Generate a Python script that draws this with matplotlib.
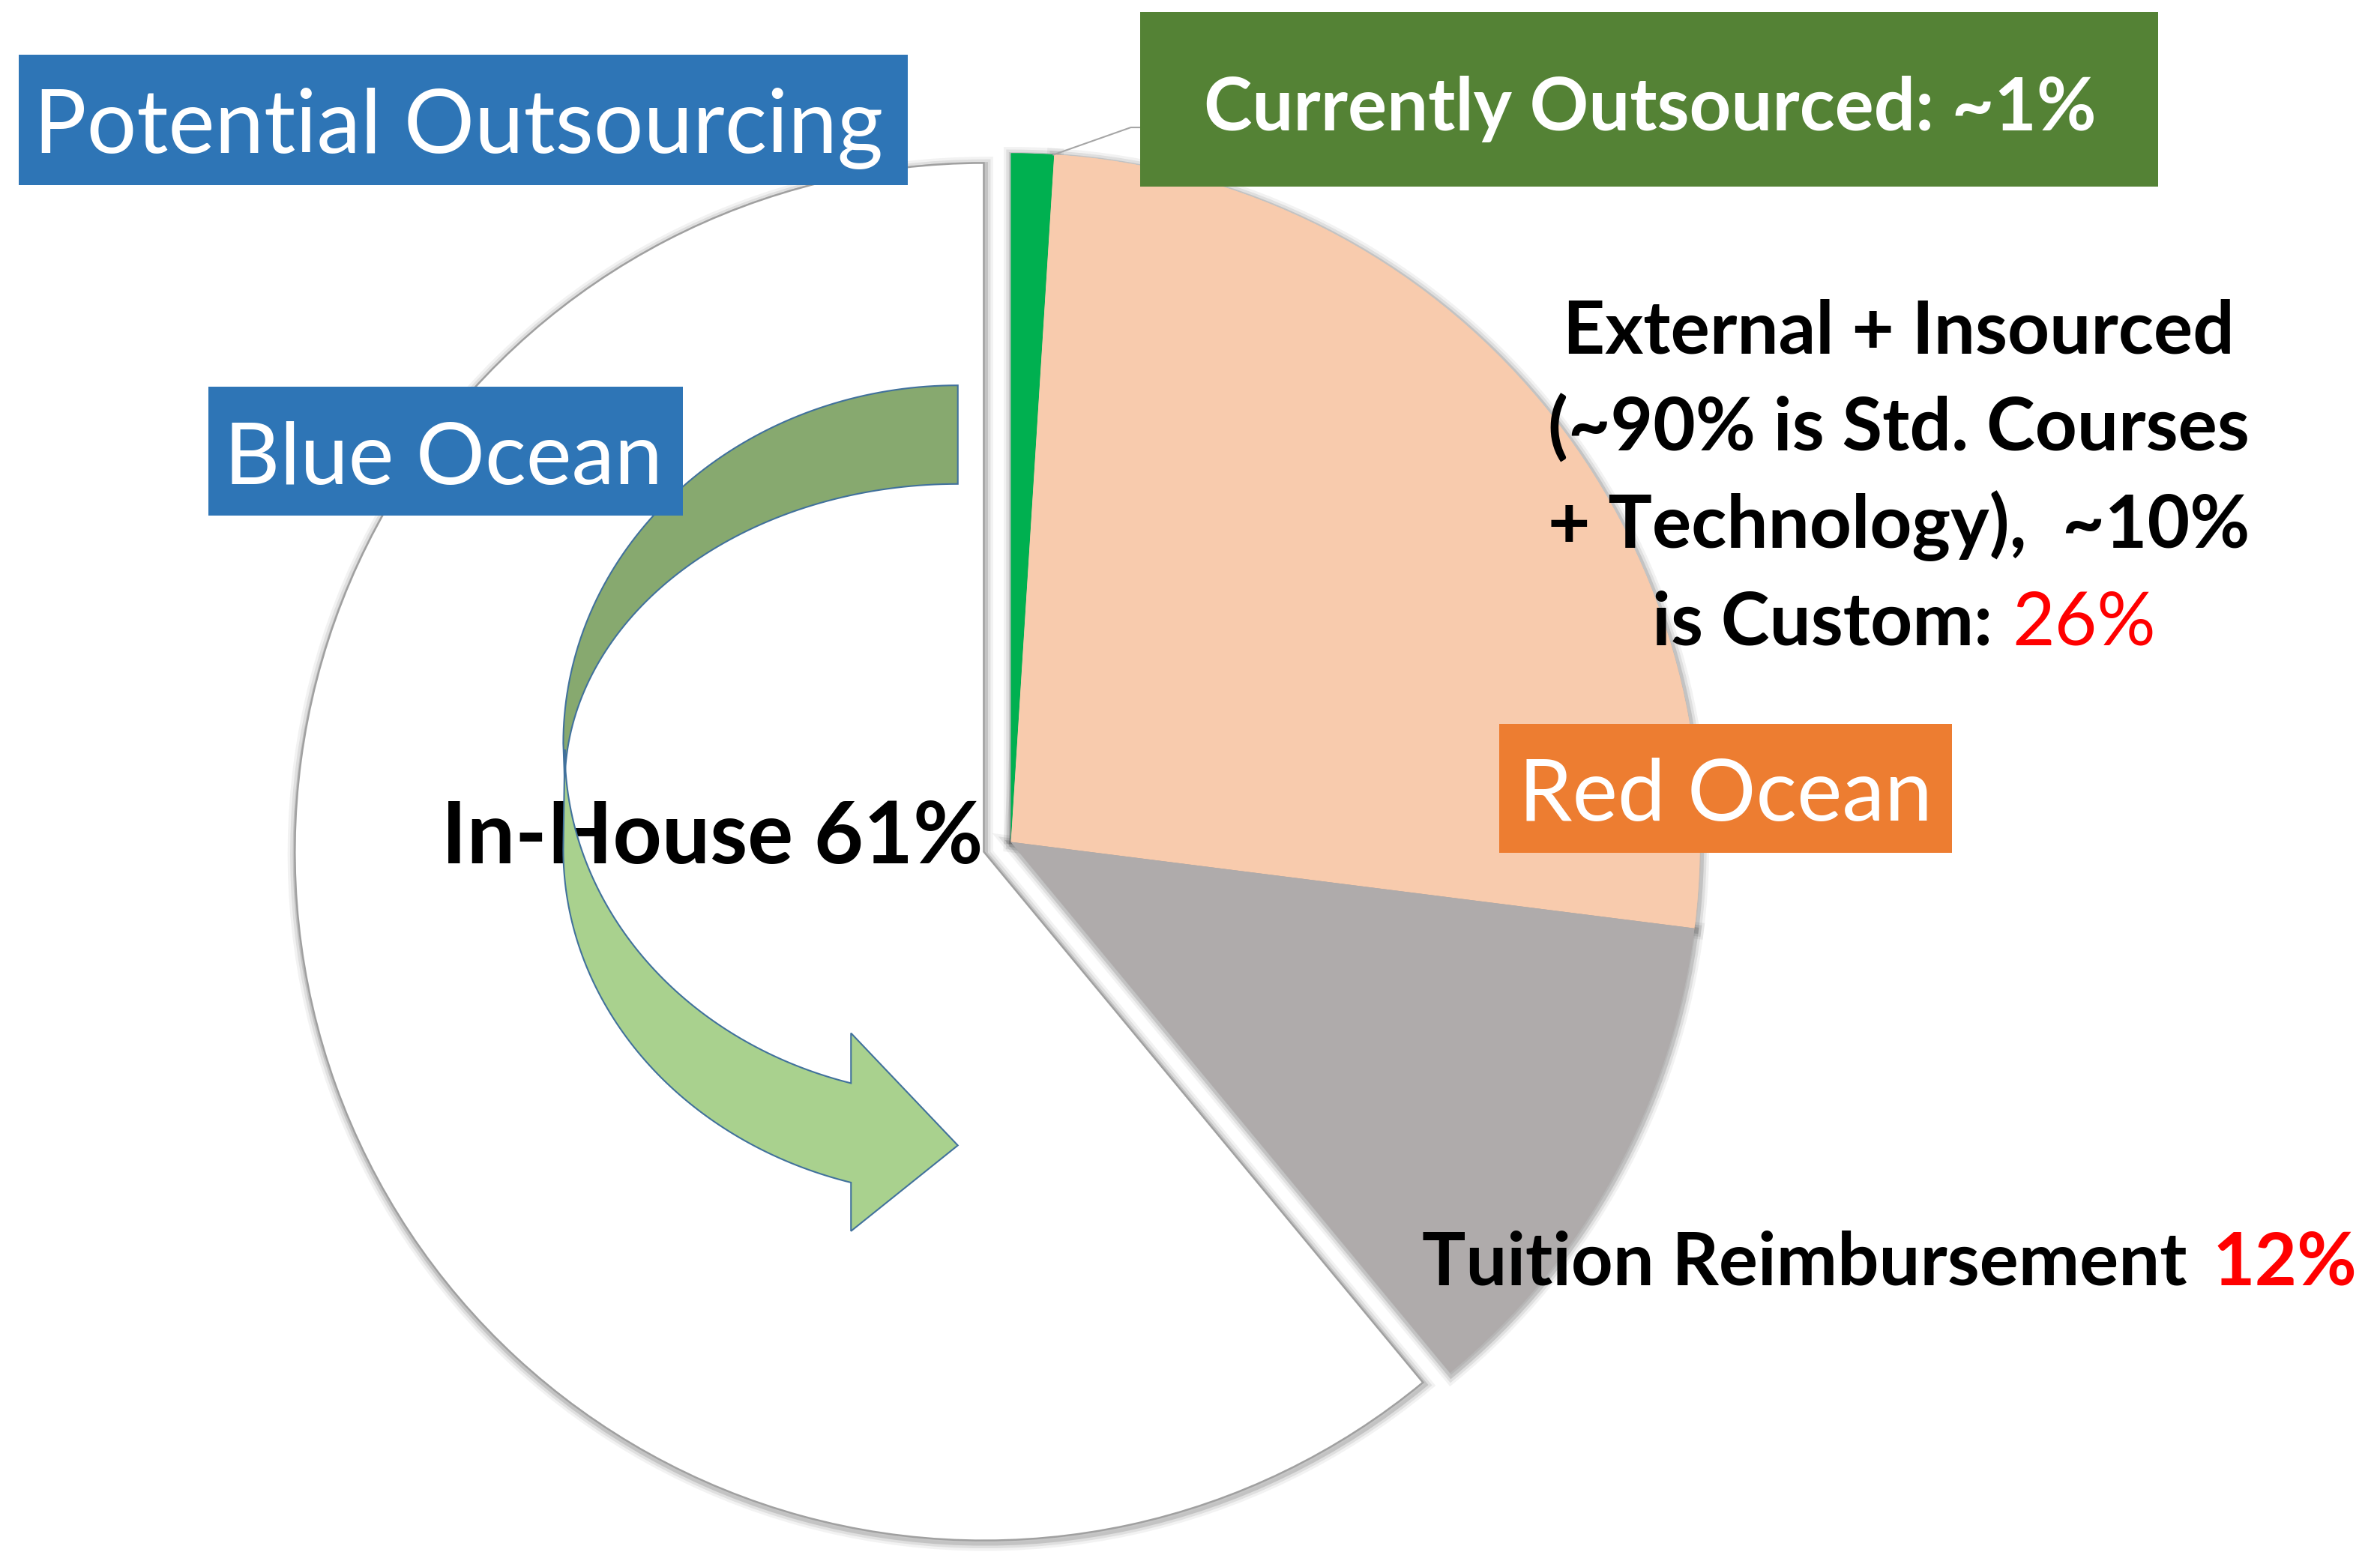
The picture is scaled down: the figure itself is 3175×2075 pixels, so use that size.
import numpy as np
import matplotlib.pyplot as plt
import matplotlib.patheffects as pe
from matplotlib.patches import Rectangle, Polygon

plt.rcParams['font.family'] = ['Lato', 'DejaVu Sans']

# slice order: clockwise from 12 o'clock
segments = ['Currently Outsourced', 'External + Insourced', 'Tuition Reimbursement', 'In-House']
shares = [1, 26, 12, 61]
slice_colors = ['#00B050', '#F8CBAD', '#AFABAB', '#FFFFFF']
explode = [0, 0, 0, 19]

# the layout below is worked in the reference's 1568x1025 preview pixels (y down)
W, H = 1568, 1025
K = 3175 / W

fig = plt.figure(figsize=(31.75, 20.75), dpi=100)
ax = fig.add_axes([0, 0, 1, 1])

center = (666, 555)
radius = 454

# soft shadow pass, then the real slices on top
halo = [pe.Stroke(offset=(1, -2), linewidth=16, foreground='k', alpha=0.05),
        pe.Stroke(offset=(1, -2), linewidth=11, foreground='k', alpha=0.08),
        pe.Stroke(offset=(1, -2), linewidth=6, foreground='k', alpha=0.12),
        pe.Normal()]
shadow, _ = ax.pie(shares, colors=slice_colors, explode=explode, startangle=-90,
                   counterclock=True, center=center, radius=radius,
                   wedgeprops=dict(linewidth=0, zorder=1))
for w in shadow:
    w.set_path_effects(halo)

wedges, _ = ax.pie(shares, colors=slice_colors, explode=explode, startangle=-90,
                   counterclock=True, center=center, radius=radius,
                   wedgeprops=dict(linewidth=0, zorder=2))
wedges[3].set_edgecolor('#A0A0A0')
wedges[3].set_linewidth(1.8)

ax.set_xlim(0, W)
ax.set_ylim(H, 0)
ax.set_aspect('equal')
ax.axis('off')

# connector from the thin green slice to its label
ax.plot([694, 745, 752], [102, 84, 84], color='#A6A6A6', lw=1.5, zorder=5)


# curved arrow (Blue Ocean -> In-House)
def arc(cx, cy, a, b, t0, t1, n=80):
    t = np.radians(np.linspace(t0, t1, n))
    return np.column_stack([cx + a * np.cos(t), cy + b * np.sin(t)])


back = np.vstack([arc(631, 490, 260, 236, -90, -180),
                  arc(631, 517, 259, 198, 180, 270)])
front = np.vstack([arc(631, 494, 259, 228.6, 180, 105.77),
                   [[560.6, 681], [631, 755], [560.6, 811.5]],
                   arc(631, 560, 260, 228, 105.71, 180)])
ax.add_patch(Polygon(back, closed=True, fc='#87A96F', ec='#41719C', lw=1.5, zorder=4))
ax.add_patch(Polygon(front, closed=True, fc='#A9D18E', ec='#41719C', lw=1.5, zorder=4))

renderer = fig.canvas.get_renderer()


def fit(t, width):
    w = t.get_window_extent(renderer).width / K
    t.set_fontsize(t.get_fontsize() * width / w)
    return t.get_fontsize()


# coloured label boxes
boxes = [
    ((12, 36, 586, 86), '#2E75B6', 'Potential Outsourcing', 302, 101, 560, 'normal'),
    ((137, 255, 313, 85), '#2E75B6', 'Blue Ocean', 292, 319, 289, 'normal'),
    ((751, 8, 671, 115), '#548235', f'Currently Outsourced: ~{shares[0]}%', 1087, 86, 588, 'bold'),
    ((988, 477, 298, 85), '#ED7D31', 'Red Ocean', 1137, 541, 273, 'normal'),
]
for (x0, y0, bw, bh), fc, txt, tx, ty, tw, weight in boxes:
    ax.add_patch(Rectangle((x0, y0), bw, bh, fc=fc, ec='none', zorder=5))
    t = ax.text(tx, ty, txt, color='white', ha='center', va='baseline',
                fontsize=60, fontweight=weight, zorder=6)
    fit(t, tw)

# In-House label sits under the arrow
t = ax.text(291, 569, f'{segments[3]} {shares[3]}%', ha='left', va='baseline',
            fontsize=60, fontweight='bold', color='black', zorder=3)
fit(t, 357)

# External + Insourced block
t = ax.text(1251, 233, segments[1], ha='center', va='baseline',
            fontsize=60, fontweight='bold', zorder=6)
fs = fit(t, 442)
ax.text(1251, 297, '(~90% is Std. Courses', ha='center', va='baseline',
        fontsize=fs, fontweight='bold', zorder=6)
ax.text(1251, 361, '+ Technology),  ~10%', ha='center', va='baseline',
        fontsize=fs, fontweight='bold', zorder=6)
ax.text(1313, 425, 'is Custom:', ha='right', va='baseline',
        fontsize=fs, fontweight='bold', zorder=6)
ax.text(1326, 425, f'{shares[1]}%', ha='left', va='baseline',
        fontsize=fs, color='#FF0000', zorder=6)

# Tuition label
t = ax.text(937, 847, segments[2], ha='left', va='baseline',
            fontsize=60, fontweight='bold', zorder=6)
fs = fit(t, 504)
ax.text(1553, 847, f'{shares[2]}%', ha='right', va='baseline',
        fontsize=fs, fontweight='bold', color='#FF0000', zorder=6)

fig.savefig('out.png', dpi=100)
